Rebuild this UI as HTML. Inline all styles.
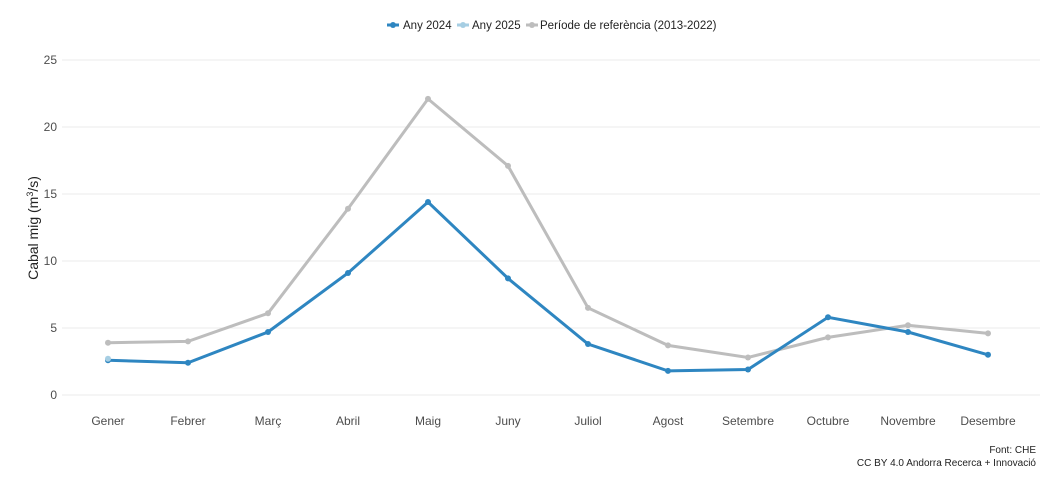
<!DOCTYPE html>
<html><head><meta charset="utf-8"><style>
body{margin:0;background:#fff;}
svg{display:block;font-family:"Liberation Sans",sans-serif;}
</style></head><body>
<svg width="1057" height="485" xmlns="http://www.w3.org/2000/svg">
<rect width="1057" height="485" fill="#fff"/>
<g stroke="#ebebeb" stroke-width="1">
<line x1="62" x2="1040" y1="395" y2="395"/><line x1="62" x2="1040" y1="328" y2="328"/>
<line x1="62" x2="1040" y1="261" y2="261"/><line x1="62" x2="1040" y1="194" y2="194"/>
<line x1="62" x2="1040" y1="127" y2="127"/><line x1="62" x2="1040" y1="60" y2="60"/>
</g>
<g font-size="12" fill="#4d4d4d" text-anchor="end">
<text x="57" y="399">0</text><text x="57" y="332">5</text><text x="57" y="265">10</text>
<text x="57" y="198">15</text><text x="57" y="131">20</text><text x="57" y="64">25</text>
</g>
<text transform="translate(38,228) rotate(-90)" font-size="14" fill="#222" text-anchor="middle">Cabal mig (m<tspan font-size="9" dy="-5">3</tspan><tspan dy="5">/s)</tspan></text>
<g font-size="12" fill="#4d4d4d" text-anchor="middle">
<text x="108" y="425">Gener</text><text x="188" y="425">Febrer</text><text x="268" y="425">Març</text>
<text x="348" y="425">Abril</text><text x="428" y="425">Maig</text><text x="508" y="425">Juny</text>
<text x="588" y="425">Juliol</text><text x="668" y="425">Agost</text><text x="748" y="425">Setembre</text>
<text x="828" y="425">Octubre</text><text x="908" y="425">Novembre</text><text x="988" y="425">Desembre</text>
</g>
<polyline fill="none" stroke="#bdbdbd" stroke-width="3" points="108,342.7 188,341.4 268,313.3 348,208.7 428,98.9 508,165.9 588,307.9 668,345.4 748,357.5 828,337.4 908,325.3 988,333.4"/>
<g fill="#bdbdbd"><circle cx="108" cy="342.7" r="3"/><circle cx="188" cy="341.4" r="3"/><circle cx="268" cy="313.3" r="3"/><circle cx="348" cy="208.7" r="3"/><circle cx="428" cy="98.9" r="3"/><circle cx="508" cy="165.9" r="3"/><circle cx="588" cy="307.9" r="3"/><circle cx="668" cy="345.4" r="3"/><circle cx="748" cy="357.5" r="3"/><circle cx="828" cy="337.4" r="3"/><circle cx="908" cy="325.3" r="3"/><circle cx="988" cy="333.4" r="3"/></g>
<polyline fill="none" stroke="#2e86c1" stroke-width="3" points="108,360.2 188,362.8 268,332 348,273 428,202 508,278.4 588,344 668,370.9 748,369.5 828,317.3 908,332 988,354.8"/>
<g fill="#2e86c1"><circle cx="108" cy="360.2" r="3"/><circle cx="188" cy="362.8" r="3"/><circle cx="268" cy="332" r="3"/><circle cx="348" cy="273" r="3"/><circle cx="428" cy="202" r="3"/><circle cx="508" cy="278.4" r="3"/><circle cx="588" cy="344" r="3"/><circle cx="668" cy="370.9" r="3"/><circle cx="748" cy="369.5" r="3"/><circle cx="828" cy="317.3" r="3"/><circle cx="908" cy="332" r="3"/><circle cx="988" cy="354.8" r="3"/></g>
<circle cx="108" cy="358.8" r="3" fill="#a6cee3"/>
<g font-size="11.5" fill="#222">
<line x1="387" x2="399" y1="25" y2="25" stroke="#2e86c1" stroke-width="3"/><circle cx="393" cy="25" r="3" fill="#2e86c1"/>
<text x="403" y="29">Any 2024</text>
<line x1="457" x2="469" y1="25" y2="25" stroke="#a6cee3" stroke-width="3"/><circle cx="463" cy="25" r="3" fill="#a6cee3"/>
<text x="472" y="29">Any 2025</text>
<line x1="526" x2="538" y1="25" y2="25" stroke="#bdbdbd" stroke-width="3"/><circle cx="532" cy="25" r="3" fill="#bdbdbd"/>
<text x="540" y="29">Període de referència (2013-2022)</text>
</g>
<g font-size="10" fill="#222" text-anchor="end">
<text x="1036" y="453">Font: CHE</text>
<text x="1036" y="466">CC BY 4.0 Andorra Recerca + Innovació</text>
</g>
</svg>
</body></html>
